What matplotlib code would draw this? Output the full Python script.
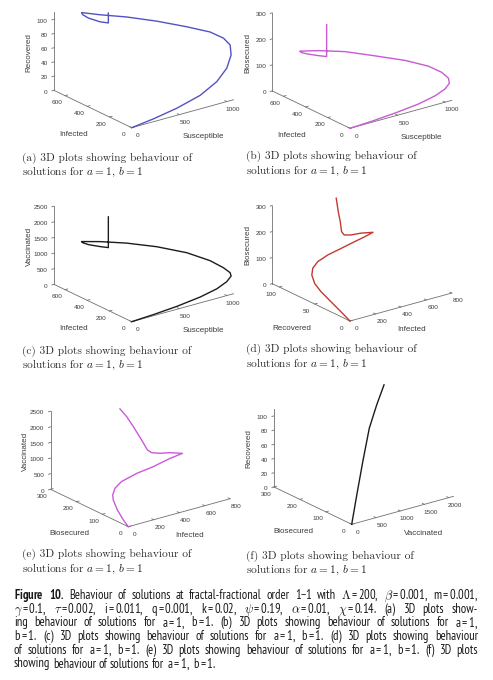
import matplotlib.pyplot as plt
from mpl_toolkits.mplot3d import proj3d

plt.rcParams['font.family'] = ['Liberation Sans', 'DejaVu Sans']
# caption maths in the narrow sans of the journal text
plt.rcParams['mathtext.fontset'] = 'custom'
plt.rcParams['mathtext.rm'] = 'PT Sans Narrow'
plt.rcParams['mathtext.it'] = 'PT Sans Narrow:italic'
plt.rcParams['mathtext.bf'] = 'PT Sans Narrow:bold'

W, H = 493, 680

# trajectory shared by (a)-(c), from the initial spike down to the origin
sus = [531, 531, 452, 337, 277, 249, 362, 519, 672, 824, 947, 1030, 1059, 1045, 999, 895, 719, 474, 228, 0]
inf = [665, 665, 672, 679, 679, 665, 595, 490, 350, 210, 105, 56, 21, 0, 0, 0, 0, 0, 0, 0]
rec = [92, 78, 82, 91, 98, 103, 101, 100, 99, 96, 92, 84, 76, 64, 47, 32, 19, 10, 4, 0]
bio = [208, 86, 96, 113, 125, 135, 140, 142, 139, 135, 122, 100, 82, 68, 51, 35, 21, 11, 4, 0]
vac = [1775, 792, 878, 1026, 1138, 1221, 1244, 1244, 1240, 1160, 981, 769, 647, 587, 445, 304, 187, 93, 36, 0]

# (d) infected / recovered / biosecured
d_inf = [464, 480, 496, 528, 560, 608, 640, 664, 560, 440, 304, 176, 80, 24, 0, 0, 0, 0, 0, 0]
d_rec = [103, 103, 103, 107, 109, 108, 100, 87, 80, 73, 67, 63, 60, 57, 54, 50, 41, 27, 13, 0]
d_bio = [275, 221, 180, 133, 113, 108, 121, 138, 144, 150, 151, 148, 139, 125, 106, 79, 59, 39, 19, 0]

# (e) infected / biosecured / vaccinated
e_inf = [456, 480, 504, 536, 568, 592, 624, 656, 680, 560, 416, 280, 144, 64, 16, 0, 0, 0, 0]
e_bio = [256, 242, 228, 212, 205, 201, 184, 161, 125, 114, 108, 105, 97, 83, 68, 58, 42, 19, 0]
e_vac = [2240, 2022, 1731, 1333, 1003, 907, 917, 994, 1087, 1106, 1026, 974, 897, 827, 725, 625, 365, 138, 0]

# (f) vaccinated / biosecured / recovered
f_vac = [2100, 1848, 1470, 945, 420, 0]
f_bio = [268, 249, 207, 134, 59, 0]
f_rec = [110, 90, 71.5, 47, 23, 0]

s_ticks = [0, 500, 1000]
i_ticks = [0, 200, 400, 600]
i8_ticks = [0, 200, 400, 600, 800]
r_ticks = [0, 20, 40, 60, 80, 100]
r50_ticks = [0, 50, 100]
b_ticks = [0, 100, 200, 300]
v_ticks = [0, 500, 1000, 1500, 2000, 2500]
v2_ticks = [0, 500, 1000, 1500, 2000]

tags = ['(a)', '(b)', '(c)', '(d)', '(e)', '(f)']

cap_lines = [
    r"$\mathbf{Figure}$ $\mathbf{10.}$ Behaviour of solutions at fractal-fractional order 1$-$1 with $\Lambda=200,$ $\beta=0.001,$ $m=0.001,$",
    r"$\gamma=0.1,$ $\tau=0.002,$ $i=0.011,$ $q=0.001,$ $k=0.02,$ $\psi=0.19,$ $\alpha=0.01,$ $\chi=0.14.$ (a) 3D plots show-",
    r"ing behaviour of solutions for $a=1,$ $b=1.$ (b) 3D plots showing behaviour of solutions for $a=1,$",
    r"$b=1.$ (c) 3D plots showing behaviour of solutions for $a=1,$ $b=1.$ (d) 3D plots showing behaviour",
    r"of solutions for $a=1,$ $b=1.$ (e) 3D plots showing behaviour of solutions for $a=1,$ $b=1.$ (f) 3D plots",
    r"showing behaviour of solutions for $a=1,$ $b=1.$",
]

AXC = '#707070'
TXC = '#3c3c3c'

fig = plt.figure(figsize=(W / 100, H / 100), dpi=100)


def panel(ox, oy, xs, ys, zs, color, lims, ticks, names, xl_frac):
    # square 3d axes placed so that the origin lands at (ox, oy) pixels
    ax = fig.add_axes([(ox - 87.6) / W, 1 - (oy + 27.9) / H, 194 / W, 194 / H],
                      projection='3d', facecolor='none')
    ax.set_proj_type('ortho')
    ax.view_init(elev=21.3, azim=-127.1)
    ax.set_box_aspect((382.4, 386.3, 251.2))
    xm, ym, zm = lims
    ax.set_xlim(0, xm)
    ax.set_ylim(0, ym)
    ax.set_zlim(0, zm)
    ax.set_axis_off()
    M = ax.get_proj()

    def label(x, y, z, s, **kw):
        # project the 3d anchor and put a plain 2d annotation there
        px, py, _ = proj3d.proj_transform(x, y, z, M)
        ax.annotate(s, (px, py), xycoords='data', annotation_clip=False, color=TXC, **kw)

    ax.plot([0, xm], [0, 0], [0, 0], color=AXC, lw=0.6)
    ax.plot([0, 0], [0, ym], [0, 0], color=AXC, lw=0.6)
    ax.plot([0, 0], [ym, ym], [0, zm], color=AXC, lw=0.6)
    xt, yt, zt = ticks
    for t in xt:
        ax.plot([t, t], [0, 0.025 * ym], [0, 0], color=AXC, lw=0.6)
        label(t, -0.08 * ym, -0.03 * zm, str(t), ha='center', va='top', fontsize=4.6)
    for t in yt:
        ax.plot([0, 0.025 * xm], [t, t], [0, 0], color=AXC, lw=0.6)
        label(-0.08 * xm, t, -0.03 * zm, str(t), ha='center', va='top', fontsize=4.6)
    for t in zt:
        ax.plot([0, -0.02 * xm], [ym, ym], [t, t], color=AXC, lw=0.6)
        label(-0.06 * xm, ym, t, str(t), ha='right', va='center', fontsize=4.6)

    xn, yn, zn = names
    label(xl_frac * xm, -0.2 * ym, -0.4 * xl_frac * zm, xn, ha='center', va='center', fontsize=5.8)
    label(-0.2 * xm, 0.49 * ym, -0.255 * zm, yn, ha='center', va='center', fontsize=5.8)
    label(-0.2 * xm, 1.058 * ym, 0.533 * zm, zn, ha='center', va='center', rotation=90, fontsize=5.8)

    ax.plot(xs, ys, zs, color=color, lw=1.0)
    return ax


panel(131.7, 127.7, sus, inf, rec, '#5252c4', (1070, 700, 110), (s_ticks, i_ticks, r_ticks),
      ('Susceptible', 'Infected', 'Recovered'), 0.55)
panel(350.0, 128.3, sus, inf, bio, '#c85ad4', (1070, 700, 300), (s_ticks, i_ticks, b_ticks),
      ('Susceptible', 'Infected', 'Biosecured'), 0.55)
panel(131.7, 321.7, sus, inf, vac, '#1c1c1c', (1070, 700, 2500), (s_ticks, i_ticks, v_ticks),
      ('Susceptible', 'Infected', 'Vaccinated'), 0.55)
panel(350.0, 321.0, d_inf, d_rec, d_bio, '#c23a32', (800, 110, 300), (i8_ticks, r50_ticks, b_ticks),
      ('Infected', 'Recovered', 'Biosecured'), 0.45)
panel(128.3, 526.7, e_inf, e_bio, e_vac, '#cc58dc', (800, 300, 2500), (i8_ticks, b_ticks, v_ticks),
      ('Infected', 'Biosecured', 'Vaccinated'), 0.45)
panel(351.7, 524.3, f_vac, f_bio, f_rec, '#1c1c1c', (2100, 300, 110), (v2_ticks, b_ticks, r_ticks),
      ('Vaccinated', 'Biosecured', 'Recovered'), 0.55)

# sub-figure captions
cap_pos = [(22, 158), (246, 157), (22, 351), (246, 350), (22, 555), (246, 556)]
for tag, (cx, cy) in zip(tags, cap_pos):
    fig.text(cx / W, 1 - cy / H, tag + ' 3D plots showing behaviour of', family='Latin Modern Roman',
             fontsize=8.2, va='center', color='#222222')
    fig.text(cx / W, 1 - (cy + 14) / H, 'solutions for $a = 1$, $b = 1$', family='Latin Modern Roman',
             math_fontfamily='cm', fontsize=8.2, va='center', color='#222222')

# justified figure caption: pick the size so the fullest line still keeps a small word gap
renderer = fig.canvas.get_renderer()
x0, x1 = 14, 478
probe_fs = 9.0
ratios = []
for line in cap_lines[:-1]:
    ws = line.split(' ')
    tot = 0
    for w in ws:
        t = fig.text(0, 0, w, fontsize=probe_fs, family='PT Sans Narrow')
        tot += t.get_window_extent(renderer).width
        t.remove()
    ratios.append((x1 - x0 - 2.4 * (len(ws) - 1)) / tot)
cap_fs = min(9.0, probe_fs * min(ratios))

for k, line in enumerate(cap_lines):
    yb = 1 - (599 + 13.7 * k) / H
    words = [fig.text(0, yb, w, fontsize=cap_fs, va='baseline', color='#1a1a1a',
                      family='PT Sans Narrow') for w in line.split(' ')]
    widths = [t.get_window_extent(renderer).width for t in words]
    if k < len(cap_lines) - 1:
        gap = (x1 - x0 - sum(widths)) / (len(words) - 1)
    else:
        gap = 2.6
    x = x0
    for t, wd in zip(words, widths):
        t.set_x(x / W)
        x += wd + gap

fig.savefig('out.png', dpi=100)
